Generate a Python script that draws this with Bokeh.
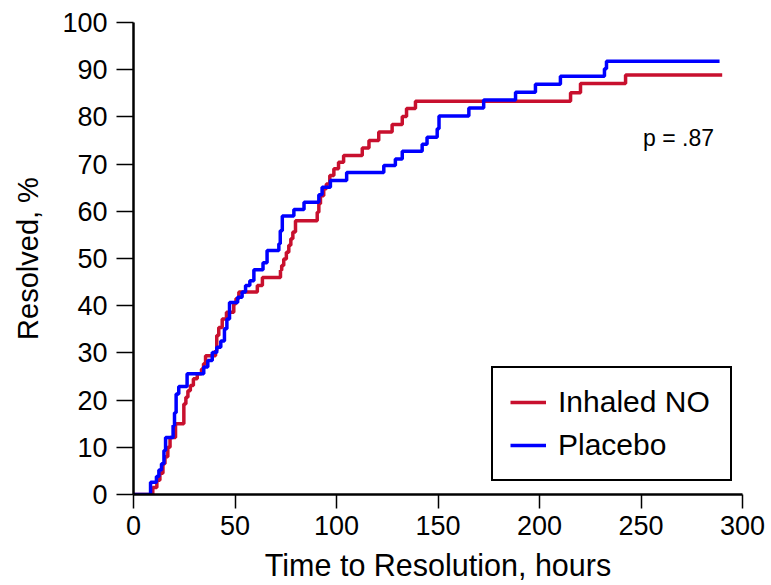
from bokeh.plotting import figure
from bokeh.models import Range1d, SingleIntervalTicker, Legend, LegendItem, Label
from bokeh.embed import file_html
from bokeh.resources import INLINE

# ---- data ----
no_time = [9.5, 11.5, 13.0, 14.5, 15.5, 16.9, 18.0, 20.7, 24.8, 25.8, 26.8, 28.0, 29.5, 31.4,
           33.5, 34.5, 35.5, 40.4, 41.0, 42.0, 43.7, 45.8, 49.4, 50.5, 51.9, 61.0, 63.5, 72.4,
           73.0, 74.0, 75.3, 76.5, 77.5, 78.5, 79.8, 90.5, 91.3, 92.1, 93.7, 95.0, 96.7, 98.7,
           101.0, 103.5, 112.7, 116.0, 120.8, 127.4, 132.4, 134.5, 138.9, 215.3, 220.2, 242.4]
no_pct = [1.5, 3.0, 4.5, 6.5, 8.0, 10.0, 12.1, 15.0, 19.2, 20.6, 22.0, 23.1, 24.5, 25.6,
          26.6, 27.7, 29.4, 30.5, 33.7, 35.4, 37.2, 38.6, 40.4, 41.5, 42.9, 44.3, 46.0, 47.5,
          48.5, 49.9, 51.3, 52.8, 54.2, 55.6, 58.0, 59.8, 61.6, 63.3, 64.8, 65.8, 67.6, 69.0,
          70.4, 71.8, 73.4, 75.0, 76.8, 78.4, 80.1, 81.8, 83.3, 85.1, 87.1, 88.9]
no_end = 290.0

pl_time = [8.4, 11.3, 12.5, 13.8, 15.0, 15.8, 19.5, 20.2, 21.0, 22.3, 26.4, 34.6, 36.6, 38.8,
           41.0, 43.0, 44.8, 46.0, 47.3, 51.3, 53.5, 55.2, 57.3, 59.3, 63.8, 65.8, 71.6, 72.3,
           73.3, 79.0, 84.0, 91.3, 92.9, 97.0, 105.0, 123.3, 129.0, 132.4, 142.2, 144.6, 149.6,
           150.5, 165.2, 172.5, 188.2, 198.0, 210.3, 232.0, 233.0]
pl_pct = [2.6, 3.8, 5.2, 6.5, 9.3, 12.1, 14.6, 17.3, 21.3, 22.9, 25.6, 27.0, 28.4, 30.1,
          31.2, 32.5, 35.1, 37.2, 40.7, 41.8, 42.9, 44.3, 45.3, 47.6, 49.1, 51.7, 53.1, 55.9,
          59.0, 60.4, 61.9, 63.5, 65.1, 66.5, 68.2, 69.7, 71.1, 72.7, 74.2, 75.7, 77.5,
          80.2, 81.9, 83.6, 85.2, 86.9, 88.6, 90.2, 91.8]
pl_end = 288.7

series_labels = ["Inhaled NO", "Placebo"]
p_text = "p = .87"
p_pos = (251.0, 75.6)

x_title = "Time to Resolution, hours"
y_title = "Resolved, %"

RED = "#C8102E"
BLUE = "#0000FF"
FONT = "Liberation Sans"

p = figure(width=771, height=585, output_backend="svg", toolbar_location=None,
           x_range=Range1d(0, 300), y_range=Range1d(0, 100),
           min_border_left=133, min_border_right=29, min_border_top=22, min_border_bottom=91)
p.outline_line_color = None
p.xgrid.visible = False
p.ygrid.visible = False
p.background_fill_color = "white"
p.border_fill_color = "white"

def km(times, pcts, end):
    xs = [0.0] + list(times) + [end]
    ys = [0.0] + list(pcts) + [pcts[-1]]
    return xs, ys

xr, yr = km(no_time, no_pct, no_end)
xb, yb = km(pl_time, pl_pct, pl_end)
r_red = p.step(xr, yr, mode="after", line_color=RED, line_width=3.5)
r_blue = p.step(xb, yb, mode="after", line_color=BLUE, line_width=3.5)

for ax in (p.xaxis[0], p.yaxis[0]):
    ax.axis_line_width = 2.5
    ax.axis_line_color = "black"
    ax.major_tick_line_width = 1.5
    ax.major_tick_line_color = "black"
    ax.major_tick_in = 0
    ax.minor_tick_line_color = None
    ax.major_label_text_font = FONT
    ax.major_label_text_font_size = "27px"
    ax.major_label_text_color = "black"
    ax.axis_label_text_font = FONT
    ax.axis_label_text_font_style = "normal"
    ax.axis_label_text_color = "black"

p.xaxis[0].axis_label_text_font_size = "30.5px"
p.yaxis[0].axis_label_text_font_size = "29px"
p.xaxis[0].ticker = SingleIntervalTicker(interval=50)
p.yaxis[0].ticker = SingleIntervalTicker(interval=10)
p.xaxis[0].major_tick_out = 14
p.yaxis[0].major_tick_out = 17
p.xaxis[0].major_label_standoff = 7
p.yaxis[0].major_label_standoff = 9
p.xaxis[0].axis_label = x_title
p.yaxis[0].axis_label = y_title
p.xaxis[0].axis_label_standoff = 10
p.yaxis[0].axis_label_standoff = 15

legend = Legend(items=[LegendItem(label=series_labels[0], renderers=[r_red]),
                       LegendItem(label=series_labels[1], renderers=[r_blue])],
                location=(358, 13))
legend.label_text_font = FONT
legend.label_text_font_size = "30px"
legend.label_text_color = "black"
legend.glyph_width = 36
legend.glyph_height = 30
legend.label_height = 30
legend.label_width = 155
legend.label_standoff = 12
legend.spacing = 9
legend.padding = 17
legend.margin = 0
legend.border_line_color = "black"
legend.border_line_width = 2
legend.border_line_alpha = 1.0
legend.background_fill_color = "white"
legend.background_fill_alpha = 1.0
p.add_layout(legend)

p.add_layout(Label(x=p_pos[0], y=p_pos[1], text=p_text, text_font=FONT,
                   text_font_size="23px", text_color="black",
                   text_align="left", text_baseline="alphabetic"))

open("out.html", "w").write(file_html(p, INLINE))
